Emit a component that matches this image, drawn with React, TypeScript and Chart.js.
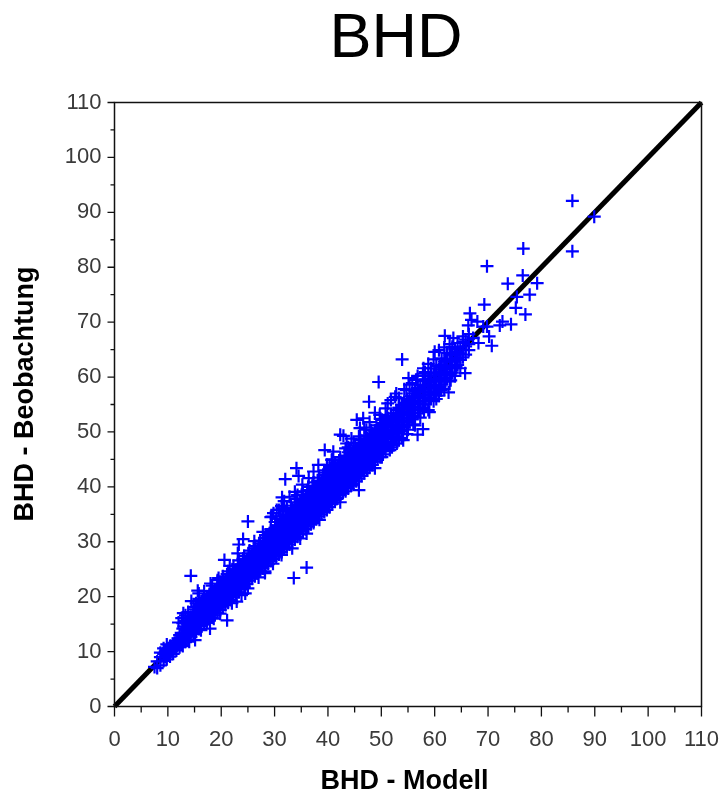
import React, { useEffect, useRef } from "react";
import { Chart, registerables } from "chart.js";

Chart.register(...registerables);

const chartTitle = "BHD";
const xAxisTitle = "BHD - Modell";
const yAxisTitle = "BHD - Beobachtung";
const axisMax = 110;
const axisStep = 5;
const labelStep = 10;
const identityLine = [{ x: 0, y: 0 }, { x: 110, y: 110 }];

const outlierPairs: [number, number][] = [
  [85.8, 92.1], [89.9, 89.2], [85.8, 82.9], [76.6, 83.4], [69.8, 80.2], [76.5, 78.5], [73.7, 77], [79.2, 77.1],
  [77.8, 75], [75.4, 74.6], [75.2, 72.6], [77, 71.4], [69.3, 73.2], [72.7, 70.1], [72.2, 69.4], [74.3, 69.6],
  [66.6, 71.6], [66.9, 70.4], [66.3, 69.4], [68, 70.1], [69.1, 69.2], [69.8, 69.2], [70.2, 67.4], [70.7, 65.7],
  [68.2, 66.2], [61.9, 67.5], [63.5, 67.1], [67.2, 67.1], [65.7, 60.7], [62.6, 57.2], [53.9, 63.2], [49.5, 59.1],
  [47.7, 55.5], [57.9, 61.6], [55.1, 59.8], [60, 64.6], [57.8, 50.5], [56.8, 49.5], [59, 53.6], [54.1, 48.5],
  [52, 47.2], [46.6, 52.5], [42.9, 49.3], [39.4, 46.7], [41, 46.4], [34.1, 43.4], [34.5, 42], [32, 41.4],
  [31.4, 38.1], [33.8, 39.1], [25, 33.7], [24.1, 30.5], [23.3, 29.5], [23.1, 27.9], [20.6, 26.7], [14.3, 23.8],
  [15.6, 21.1], [14.4, 19.2], [12.9, 17], [12, 15.3], [21.1, 15.7], [33.6, 23.4], [36, 25.3], [17.9, 14.2],
  [15.1, 12.1], [22.9, 19.1], [24.5, 20.6], [28.2, 24.3], [33.3, 28.8], [36, 31.5], [41.3, 37.7], [42.3, 37.2],
  [45.8, 39.4],
];

// Ragged crosses along both edges of the band: [model, observed]
const edgePairs: [number, number][] = [
  [42.3, 49.5], [45.4, 52.2], [46, 50.7], [43.5, 47.9], [44.4, 48.8], [38.2, 44], [37.3, 42.8], [48.8, 44.6],
  [52.9, 47.9], [51.6, 46.7], [53.8, 48.9], [44.4, 40.3], [37.3, 33.4], [19.5, 23.4], [12.6, 16.1], [16.6, 19.4],
  [28.2, 24.6], [22, 18.8], [23.8, 20.3], [25, 21.5], [29.5, 34.6], [30.4, 35.8], [31.6, 36.1], [32, 33.7],
  [35.2, 40.4], [36.4, 41.6], [40.7, 44.9], [43.8, 47.2], [47.2, 50.4], [49.7, 53.1], [51.2, 55.2], [52.6, 56.4],
  [54.7, 57.6], [56.5, 59.5], [58.2, 60.9], [41.6, 37.8], [43.7, 39.9], [47.4, 43], [50.1, 45.4], [55, 50.4],
  [56, 51.4], [58, 53.8], [60.3, 56], [61.2, 57.6], [63, 59.4], [27, 23.5], [29.7, 26], [31.3, 27.6], [34.8, 30.6],
  [38.4, 34], [18.6, 16], [19.8, 16.9], [14, 11.8], [16.2, 13.9], [26.2, 30.1], [27.8, 31.8], [21.6, 25.6], [18, 22.4],
];

// Dense band, one row per model value: [model, observed values]
const bandRows: [number, number[]][] = [
  [7.5, [7.2]], [8, [7, 8.2]], [8.6, [7.5, 9, 9.8]], [9.2, [8.3, 9.6, 10.6]], [9.8, [8.6, 9.4, 10.3, 11.3]],
  [10.4, [9.1, 10, 11]], [11, [9.6, 10.4, 11.4]], [11.6, [10.2, 11.2, 12]], [12.2, [10.8, 11.7, 13]], [12.8, [11, 12.4, 14.2, 15.2]],
  [13.3, [11.8, 12.9, 14, 15.6, 16.6]], [13.8, [12.2, 13.5, 14.7, 17.2]], [14.3, [12.7, 13.8, 15.2, 16.3]], [14.8, [13.2, 14.4, 15.6, 16.8, 18.1]],
  [15.3, [13.6, 14.9, 16.1, 17.3, 18.8]], [15.8, [14.1, 15.3, 16.4, 17.6, 19.6, 20.6]], [16.3, [14.7, 15.8, 16.9, 18.1, 19.2]],
  [16.8, [15, 16.2, 17.3, 18.4, 19.8, 21]], [17.3, [15.4, 16.6, 17.8, 18.9, 20.1]], [17.8, [15.8, 17.1, 18.2, 19.4, 20.5]],
  [18.3, [16.2, 17.5, 18.6, 19.7, 20.9, 22]], [18.8, [16.6, 17.8, 19, 20.2, 21.3]], [19.3, [17.1, 18.3, 19.4, 20.6, 21.7, 23]],
  [19.8, [17.6, 18.7, 19.9, 21, 22.2]], [20.3, [18.2, 19.2, 20.4, 21.5, 22.6, 23.7]], [20.8, [18.5, 19.6, 20.8, 21.9, 23]],
  [21.3, [18.9, 20.1, 21.2, 22.4, 23.5, 24.6]], [21.8, [19.4, 20.6, 21.7, 22.8, 24]], [22.3, [19.9, 21, 22.2, 23.3, 24.4, 25.6]],
  [22.8, [20.4, 21.5, 22.6, 23.8, 24.9]], [23.3, [20.8, 22, 23.1, 24.2, 25.3, 26.6]], [23.8, [21.4, 22.5, 23.6, 24.7, 25.8]],
  [24.3, [21.8, 23, 24.1, 25.2, 26.3, 27.4]], [24.8, [22.3, 23.4, 24.6, 25.7, 26.8]], [25.3, [22.9, 24, 25.1, 26.2, 27.3, 28.4]],
  [25.8, [23.3, 24.5, 25.6, 26.7, 27.8]], [26.3, [23.7, 24.9, 26, 27.2, 28.3, 29.2]], [26.8, [24.2, 25.4, 26.5, 27.6, 28.7]],
  [27.3, [24.6, 25.8, 27, 28.1, 29.2, 30.2]], [27.8, [25.2, 26.3, 27.4, 28.5, 29.6]], [28.3, [25.6, 26.8, 27.9, 29, 30.1, 31.2]],
  [28.8, [26, 27.2, 28.4, 29.5, 30.6]], [29.3, [26.5, 27.7, 28.8, 29.9, 31, 32.3, 34.5]], [29.8, [26.9, 28.1, 29.3, 30.4, 31.5, 35.2]],
  [30.3, [27.3, 28.5, 29.7, 30.8, 31.9, 33, 34.2]], [30.8, [27.7, 28.9, 30.1, 31.2, 32.3, 35.8]], [31.3, [28.1, 29.3, 30.5, 31.7, 32.8, 34, 36.5]],
  [31.8, [28.6, 29.8, 31, 32.1, 33.2, 37.4]], [32.3, [29, 30.2, 31.4, 32.6, 33.7, 35, 36.2]], [32.8, [29.5, 30.7, 31.9, 33, 34.2, 38.2]],
  [33.3, [30, 31.2, 32.4, 33.5, 34.7, 36]], [33.8, [30.4, 31.6, 32.8, 34, 35.1, 37.2]], [34.3, [30.9, 32.1, 33.3, 34.5, 35.6, 36.8, 38.5]],
  [34.8, [31.4, 32.6, 33.8, 35, 36.1, 37.4]], [35.3, [31.9, 33.1, 34.3, 35.5, 36.6, 37.8, 39.2]], [35.8, [32.3, 33.5, 34.7, 35.9, 37, 38.3]],
  [36.3, [32.8, 34, 35.2, 36.4, 37.5, 38.7, 40]], [36.8, [33.2, 34.4, 35.6, 36.8, 38, 39.2]], [37.3, [33.7, 34.9, 36.1, 37.3, 38.4, 39.6, 40.8]],
  [37.8, [34.1, 35.3, 36.5, 37.7, 38.9, 40.1]], [38.3, [34.6, 35.8, 37, 38.2, 39.4, 40.5, 41.7]], [38.8, [35, 36.2, 37.4, 38.6, 39.8, 41]],
  [39.3, [35.4, 36.7, 37.9, 39.1, 40.3, 41.5, 43]], [39.8, [35.8, 37.1, 38.3, 39.5, 40.7, 41.9, 44]], [40.3, [36.3, 37.5, 38.8, 40, 41.2, 42.4, 43.6]],
  [40.8, [36.9, 38, 39.2, 40.4, 41.6, 42.8, 45]], [41.3, [37.6, 38.5, 39.7, 40.9, 42.1, 43.3, 44.4]], [41.8, [38, 39, 40.1, 41.3, 42.5, 43.7]],
  [42.3, [38.5, 39.5, 40.6, 41.8, 43, 44.2, 45.4]], [42.8, [38.9, 40, 41.1, 42.2, 43.4, 44.6]], [43.3, [39.2, 40.4, 41.6, 42.7, 43.9, 45.1, 47]],
  [43.8, [39.7, 40.8, 42, 43.2, 44.4, 45.6, 46.3]], [44.3, [40.2, 41.3, 42.5, 43.6, 44.8, 46]], [44.8, [40.6, 41.8, 43, 44.1, 45.2, 46.4, 48]],
  [45.3, [41, 42.2, 43.4, 44.6, 45.7, 46.9]], [45.8, [41.5, 42.7, 43.9, 45, 46.2, 47.4, 49.2]], [46.3, [42, 43.2, 44.3, 45.5, 46.7, 47.8]],
  [46.8, [42.5, 43.7, 44.8, 46, 47.2, 48.4, 50.8]], [47.3, [43.2, 44.2, 45.3, 46.5, 47.6, 48.8]], [47.8, [43.6, 44.6, 45.8, 46.9, 48.1, 49.3, 51.8]],
  [48.3, [44, 45.1, 46.3, 47.4, 48.6, 49.7]], [48.8, [43.4, 45.6, 46.7, 47.9, 49, 50.2, 53.5]], [49.3, [45, 46.1, 47.2, 48.4, 49.5, 50.6]],
  [49.8, [45.4, 46.6, 47.7, 48.8, 50, 51.2, 52.4]], [50.3, [45.9, 47, 48.2, 49.3, 50.4, 51.6]], [50.8, [46.5, 47.5, 48.7, 49.8, 50.9, 52.1, 54.3]],
  [51.3, [47.8, 49.1, 50.3, 51.4, 52.5]], [51.8, [48.2, 49.5, 50.8, 51.9, 53, 55.8]], [52.3, [47.6, 48.7, 50, 51.2, 52.3, 53.4]],
  [52.8, [49.2, 50.5, 51.7, 52.8, 54, 57]], [53.3, [48.5, 49.8, 51, 52.2, 53.3, 54.4, 56.2]], [53.8, [50.2, 51.4, 52.6, 53.7, 54.9]],
  [54.3, [50.8, 52, 53.1, 54.2, 55.3, 57.8]], [54.8, [49.6, 51.3, 52.5, 53.6, 54.7, 56]], [55.3, [51.8, 53, 54.1, 55.2, 56.5, 58.6]],
  [55.8, [52.3, 53.5, 54.6, 55.7, 57, 58.9]], [56.3, [51.2, 52.8, 54, 55.1, 56.2, 57.4]], [56.8, [53.4, 54.5, 55.6, 56.8, 58, 60.2]],
  [57.3, [52.6, 54, 55.1, 56.2, 57.3, 58.5]], [57.8, [54.4, 55.6, 56.7, 57.8, 59.3, 60.6]], [58.3, [55, 56.2, 57.3, 58.4, 59.6]],
  [58.8, [54, 55.7, 56.8, 57.9, 59, 60.2, 62.4]], [59.3, [56.2, 57.3, 58.5, 59.6, 60.8, 61.6]], [59.8, [55.6, 56.8, 58, 59.2, 60.3, 63.2]],
  [60.3, [57.4, 58.6, 59.7, 60.8, 62]], [60.8, [56.6, 58, 59.2, 60.3, 61.4, 64.9]], [61.3, [58.6, 59.8, 60.9, 62.2, 63.4]],
  [61.8, [57.8, 59.2, 60.4, 61.5, 62.8, 65.4]], [62.3, [59.8, 61, 62.1, 63.2, 64.4]], [62.8, [59.2, 60.5, 61.7, 62.9, 64.1, 66]],
  [63.3, [60.8, 62, 63.2, 64.3, 65.5]], [63.8, [60.2, 61.6, 62.8, 64, 65.1]], [64.3, [62.2, 63.5, 64.6, 66.2]],
  [64.8, [61.6, 63.1, 64.3, 65.4]], [65.3, [63.6, 65, 66.4, 67.4]], [65.8, [64.1, 65.6, 66.8]], [66.4, [64.9, 66, 67.8]],
];

// Crosses packed into the solid middle of the band: [model, observed values]
const coreRows: [number, number[]][] = [
  [9.5, [9, 10]], [10.1, [9.6, 10.6]], [10.7, [10.1, 10.9]], [11.3, [10.8, 11.6]], [11.9, [11.3, 12.4]], [12.5, [11.4, 12.2, 13.4]],
  [13, [12.4, 13.4, 14.6]], [13.6, [12.9, 14, 15.1]], [14.1, [13.2, 14.3, 15.7]], [14.6, [13.8, 14.9, 16]], [15.1, [14.3, 15.4, 16.6, 17.7]],
  [15.6, [14.7, 15.8, 17, 18.2]], [16.1, [15.2, 16.3, 17.5, 18.6]], [16.6, [15.6, 16.7, 17.9, 19.1]], [17.1, [16, 17.1, 18.3, 19.5]],
  [17.6, [16.4, 17.5, 18.8, 20]], [18.1, [16.8, 17.9, 19.1, 20.3]], [18.6, [17.2, 18.3, 19.5, 20.7]], [19.1, [17.7, 18.8, 20, 21.2]],
  [19.6, [18.1, 19.3, 20.4, 21.6]], [20.1, [18.7, 19.7, 20.9, 22]], [20.6, [19, 20.2, 21.4, 22.5]], [21.1, [19.5, 20.6, 21.8, 22.9, 24.1]],
  [21.6, [20, 21.1, 22.3, 23.4]], [22.1, [20.4, 21.6, 22.7, 23.8, 25]], [22.6, [20.9, 22.1, 23.2, 24.3]], [23.1, [21.4, 22.5, 23.6, 24.7, 25.9]],
  [23.6, [21.9, 23, 24.1, 25.2]], [24.1, [22.4, 23.5, 24.6, 25.7, 26.9]], [24.6, [22.8, 24, 25.1, 26.2]], [25.1, [23.4, 24.5, 25.6, 26.7, 27.9]],
  [25.6, [23.9, 25, 26.1, 27.2]], [26.1, [24.3, 25.4, 26.5, 27.7, 28.8]], [26.6, [24.8, 25.9, 27, 28.1]], [27.1, [25.2, 26.4, 27.5, 28.6, 29.7]],
  [27.6, [25.7, 26.8, 27.9, 29]], [28.1, [26.2, 27.3, 28.4, 29.5, 30.7]], [28.6, [26.6, 27.8, 28.9, 30]], [29.1, [27.1, 28.2, 29.3, 30.4, 31.6]],
  [29.6, [27.5, 28.7, 29.8, 30.9, 32]], [30.1, [27.9, 29.1, 30.2, 31.3, 32.5, 33.6]], [30.6, [28.3, 29.5, 30.6, 31.8, 32.9]], [31.1, [28.7, 29.9, 31, 32.2, 33.4, 34.6]],
  [31.6, [29.2, 30.4, 31.5, 32.7, 33.8]], [32.1, [29.6, 30.8, 32, 33.1, 34.3, 35.5]], [32.6, [30.1, 31.3, 32.5, 33.6, 34.8]], [33.1, [30.6, 31.8, 33, 34.1, 35.3, 36.6]],
  [33.6, [31, 32.2, 33.4, 34.6, 35.7]], [34.1, [31.5, 32.7, 33.9, 35, 36.2, 37.8]], [34.6, [32, 33.2, 34.4, 35.5, 36.7]], [35.1, [32.5, 33.7, 34.9, 36, 37.2, 38.6]],
  [35.6, [32.9, 34.1, 35.3, 36.5, 37.6]], [36.1, [33.4, 34.6, 35.8, 37, 38.1, 39.4]], [36.6, [33.8, 35, 36.2, 37.4, 38.6]], [37.1, [34.3, 35.5, 36.7, 37.9, 39, 40.2]],
  [37.6, [34.7, 35.9, 37.1, 38.3, 39.5]], [38.1, [35.2, 36.4, 37.6, 38.8, 40, 41.1]], [38.6, [35.6, 36.8, 38, 39.2, 40.4]], [39.1, [36, 37.3, 38.5, 39.7, 40.9, 42.2]],
  [39.6, [36.5, 37.7, 38.9, 40.1, 41.3, 42.6]], [40.1, [36.9, 38.1, 39.4, 40.6, 41.8, 43]], [40.6, [37.3, 38.6, 39.8, 41, 42.2, 43.4]], [41.1, [38.1, 39.1, 40.3, 41.5, 42.7, 43.9]],
  [41.6, [38.6, 39.6, 40.7, 41.9, 43.1]], [42.1, [39.1, 40.1, 41.2, 42.4, 43.6, 44.8]], [42.6, [39.5, 40.6, 41.7, 42.8, 44]], [43.1, [39.8, 41, 42.2, 43.3, 44.5, 45.7]],
  [43.6, [40.3, 41.4, 42.6, 43.8, 45]], [44.1, [40.8, 41.9, 43.1, 44.2, 45.4, 46.6]], [44.6, [41.2, 42.4, 43.6, 44.7, 45.8]], [45.1, [41.6, 42.8, 44, 45.2, 46.3, 47.5]],
  [45.6, [42.1, 43.3, 44.5, 45.6, 46.8]], [46.1, [42.6, 43.8, 44.9, 46.1, 47.3, 48.5]], [46.6, [43.1, 44.3, 45.4, 46.6, 47.8]], [47.1, [43.8, 44.8, 45.9, 47.1, 48.2, 49.4]],
  [47.6, [44.2, 45.2, 46.4, 47.5, 48.7]], [48.1, [44.6, 45.7, 46.9, 48, 49.2, 50.3]], [48.6, [45.1, 46.2, 47.3, 48.5, 49.6]], [49.1, [45.6, 46.7, 47.8, 49, 50.1, 51.2]],
  [49.6, [46, 47.2, 48.3, 49.4, 50.6]], [50.1, [46.5, 47.6, 48.8, 49.9, 51, 52.2]], [50.6, [47.1, 48.1, 49.3, 50.4, 51.5]], [51.1, [47.9, 49.2, 50.4, 51.6, 52.8]],
  [52, [48.9, 50.1, 51.3, 52.5]], [53, [49.9, 51.1, 52.3, 53.5]], [54, [50.9, 52.1, 53.3, 54.5]], [55, [52, 53.2, 54.4, 55.6]], [56, [52.9, 54.1, 55.3, 56.5]],
  [57, [54, 55.2, 56.4, 57.6]], [58, [55, 56.1, 57.3, 58.5]], [59, [56, 57.2, 58.4, 59.6]], [60, [57.1, 58.3, 59.5, 60.7]], [61, [58.2, 59.4, 60.6, 61.8]],
  [62, [59.4, 60.6, 61.8, 63]], [63, [60.6, 61.8, 63, 64.2]], [64, [61.9, 63.1, 64.3]],
];

const treePoints = [
  ...bandRows.flatMap(([x, ys]) => ys.map((y) => ({ x, y }))),
  ...coreRows.flatMap(([x, ys]) => ys.map((y) => ({ x, y }))),
  ...edgePairs.map(([x, y]) => ({ x, y })),
  ...outlierPairs.map(([x, y]) => ({ x, y })),
];

const formatTick = (value: string | number) => (Number(value) % labelStep === 0 ? String(value) : "");

const axisFurniture = {
  id: "axisFurniture",
  afterLayout(chart: any) {
    chart.titleBlock.left = 90.5;
  },
  afterDatasetsDraw(chart: any) {
    const { ctx, chartArea: a, scales } = chart;
    ctx.save();
    ctx.strokeStyle = "#111";
    ctx.lineWidth = 1.5;
    ctx.strokeRect(a.left, a.top, a.right - a.left, a.bottom - a.top);
    ctx.lineWidth = 1.3;
    for (let v = 0; v <= axisMax; v += axisStep) {
      const major = v % labelStep === 0;
      const px = scales.x.getPixelForValue(v);
      const py = scales.y.getPixelForValue(v);
      ctx.beginPath();
      ctx.moveTo(px, a.bottom);
      ctx.lineTo(px, a.bottom + (major ? 10 : 6));
      ctx.moveTo(a.left, py);
      ctx.lineTo(a.left - (major ? 7 : 4), py);
      ctx.stroke();
    }
    ctx.fillStyle = "#000";
    ctx.font = "bold 27px 'Liberation Sans'";
    ctx.textAlign = "center";
    ctx.textBaseline = "middle";
    ctx.fillText(scales.x.options.title.text, 404.5, 782);
    ctx.translate(26, 394);
    ctx.rotate(-Math.PI / 2);
    ctx.fillText(scales.y.options.title.text, 0, 0);
    ctx.restore();
  },
};

export default function App() {
  const ref = useRef<HTMLCanvasElement | null>(null);

  useEffect(() => {
    const tickFont = { family: "'Liberation Sans'", size: 22 };
    const chart = new Chart(ref.current as HTMLCanvasElement, {
      type: "scatter",
      data: {
        datasets: [
          {
            data: treePoints,
            pointStyle: "cross",
            pointRadius: 6.5,
            pointBorderWidth: 2.2,
            pointBorderColor: "#0000ff",
            pointBackgroundColor: "#0000ff",
            showLine: false,
            order: 1,
          },
          {
            type: "line",
            data: identityLine,
            borderColor: "#000",
            borderWidth: 5,
            pointRadius: 0,
            clip: false,
            order: 2,
          },
        ],
      },
      options: {
        animation: false,
        responsive: false,
        layout: { padding: { right: 20.5 } },
        plugins: {
          legend: { display: false },
          tooltip: { enabled: false },
          title: {
            display: true,
            text: chartTitle,
            color: "#000",
            font: { family: "'Liberation Sans'", size: 63, weight: "normal", lineHeight: 1 },
            padding: { top: 8, bottom: 31.5 },
          },
        },
        scales: {
          x: {
            type: "linear",
            min: 0,
            max: axisMax,
            title: { display: false, text: xAxisTitle },
            grid: { display: false },
            border: { display: false },
            afterFit: (s: any) => { s.height = 87.5; s.paddingRight = 0; s.paddingLeft = 0; },
            ticks: { stepSize: axisStep, autoSkip: false, maxRotation: 0, minRotation: 0, padding: 12, color: "#3a3a3a", font: tickFont, callback: formatTick },
          },
          y: {
            type: "linear",
            min: 0,
            max: axisMax,
            title: { display: false, text: yAxisTitle },
            grid: { display: false },
            border: { display: false },
            afterFit: (s: any) => { s.width = 114.5; s.paddingTop = 0; s.paddingBottom = 0; },
            ticks: { stepSize: axisStep, autoSkip: false, padding: 5, color: "#3a3a3a", font: tickFont, callback: formatTick },
          },
        },
      },
      plugins: [axisFurniture],
    } as any);
    return () => chart.destroy();
  }, []);

  return (
    <div style={{ position: "absolute", left: 0, top: 0, width: 722, height: 794, background: "#fff" }}>
      <canvas ref={ref} width={722} height={794} style={{ display: "block" }} />
    </div>
  );
}
